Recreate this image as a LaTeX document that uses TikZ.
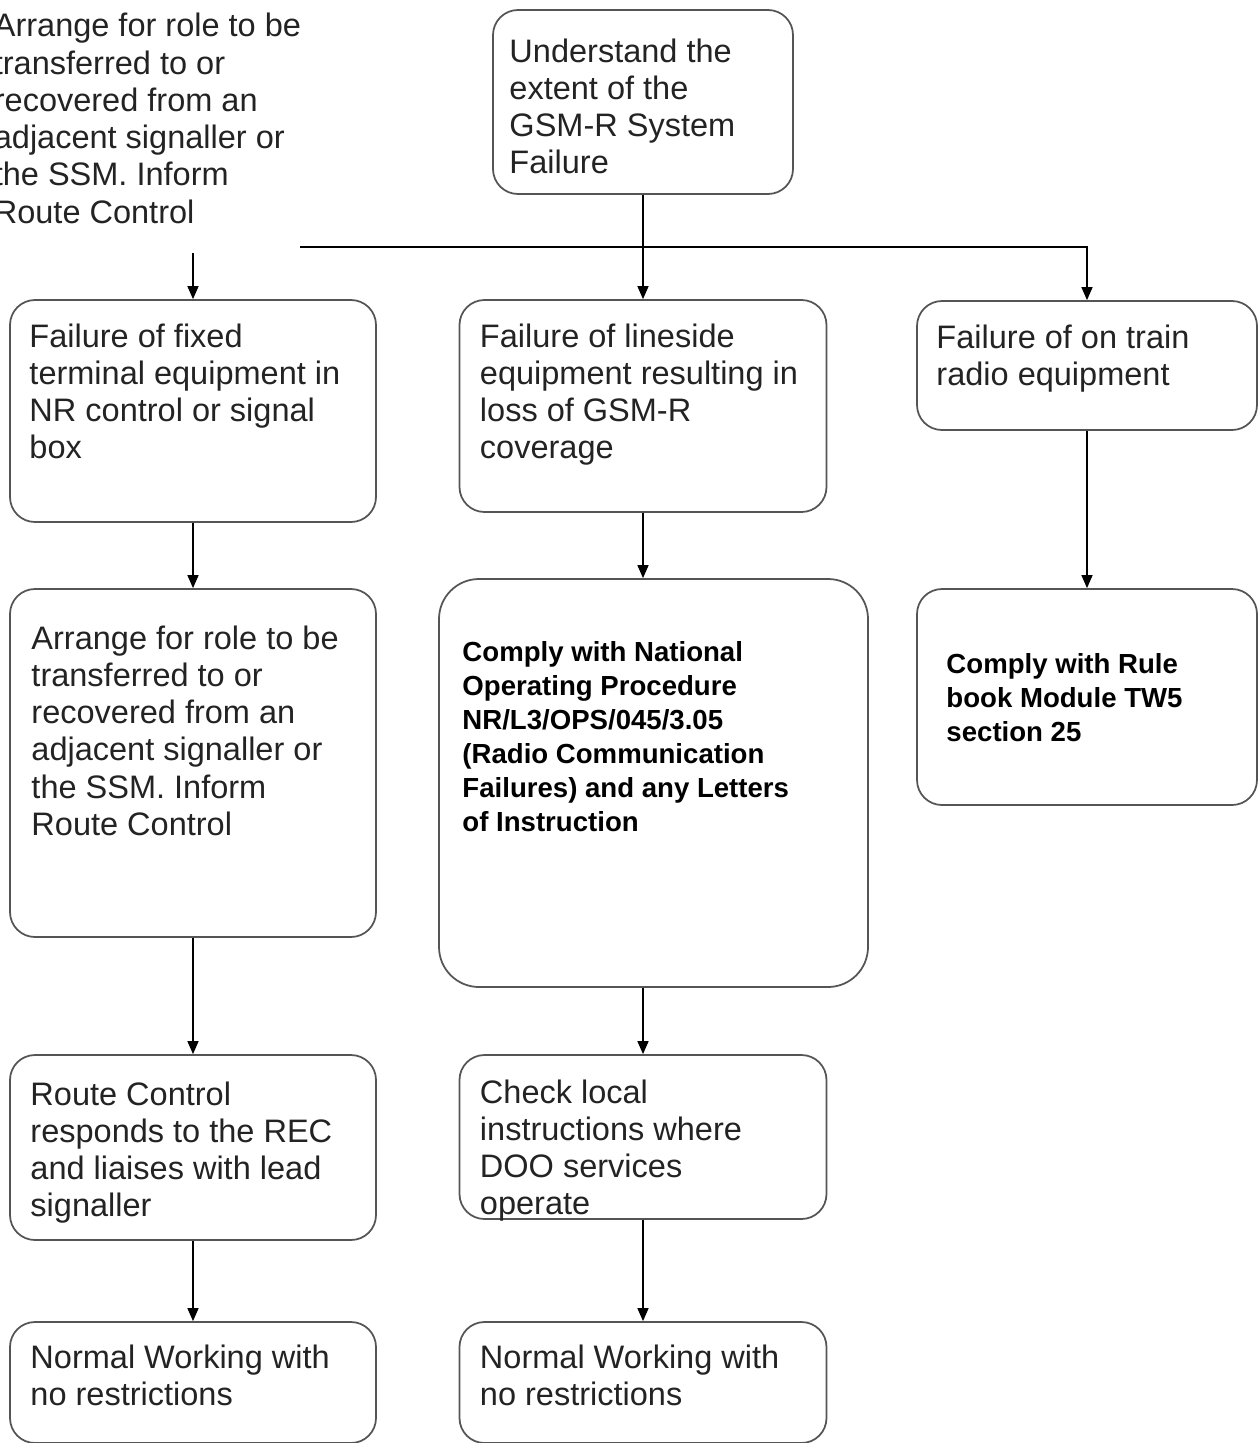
\documentclass[tikz,border=0pt]{standalone}
\usepackage{fontspec}
\setmainfont{Liberation Sans}
\usetikzlibrary{arrows.meta,positioning}
\definecolor{BoxGrey}{RGB}{85,85,85}
\definecolor{InkGrey}{RGB}{35,35,35}
\tikzset{
  stepbox/.style={draw=BoxGrey, rounded corners=0.5cm, line width=1pt},
  bigbox/.style={stepbox, rounded corners=0.8cm},
  steptext/.style={inner sep=0pt, align=left, text=InkGrey,
    font=\fontsize{18.5}{21.2}\selectfont},
  ruletext/.style={inner sep=0pt, align=left, text=black,
    font=\bfseries\fontsize{15.7}{19.35}\selectfont},
  arrow/.style={-{Triangle[length=0.26cm,width=0.22cm]}, line width=0.8pt, black}
}

\begin{document}
\begin{tikzpicture}
  \useasboundingbox (0,0) rectangle (25.16,-28.86);
  \clip (0,0) rectangle (25.16,-28.86);

  % boxes
  \node[stepbox, minimum width=6.0cm, minimum height=3.68cm] (understand) at (12.86,-2.04) {};
  \node[stepbox, minimum width=7.32cm, minimum height=4.44cm] (fixed) at (3.86,-8.22) {};
  \node[stepbox, minimum width=7.34cm, minimum height=4.24cm] (lineside) at (12.86,-8.12) {};
  \node[stepbox, minimum width=6.8cm, minimum height=2.58cm] (ontrain) at (21.74,-7.31) {};
  \node[stepbox, minimum width=7.32cm, minimum height=6.96cm] (arrange) at (3.86,-15.26) {};
  \node[bigbox, minimum width=8.58cm, minimum height=8.16cm] (comply) at (13.07,-15.66) {};
  \node[stepbox, minimum width=6.8cm, minimum height=4.32cm] (rule) at (21.74,-13.94) {};
  \node[stepbox, minimum width=7.32cm, minimum height=3.7cm] (route) at (3.86,-22.95) {};
  \node[stepbox, minimum width=7.34cm, minimum height=3.28cm] (check) at (12.86,-22.74) {};
  \node[stepbox, minimum width=7.32cm, minimum height=2.42cm] (normalA) at (3.86,-27.65) {};
  \node[stepbox, minimum width=7.34cm, minimum height=2.42cm] (normalB) at (12.86,-27.65) {};

  % texts
  \node[steptext, anchor=north west] (topnote) at (-0.13,-0.26)
    {Arrange for role to be\\transferred to or\\recovered from an\\adjacent signaller or\\the SSM. Inform\\Route Control};
  \node[steptext, below right=0.58cm and 0.34cm of understand.north west] (understandtxt)
    {Understand the\\extent of the\\GSM-R System\\Failure};
  \node[steptext, below right=0.48cm and 0.4cm of fixed.north west] (fixedtxt)
    {Failure of fixed\\terminal equipment in\\NR control or signal\\box};
  \node[steptext, below right=0.48cm and 0.42cm of lineside.north west] (linesidetxt)
    {Failure of lineside\\equipment resulting in\\loss of GSM-R\\coverage};
  \node[steptext, below right=0.48cm and 0.4cm of ontrain.north west] (ontraintxt)
    {Failure of on train\\radio equipment};
  \node[steptext, below right=0.74cm and 0.44cm of arrange.north west] (arrangetxt)
    {Arrange for role to be\\transferred to or\\recovered from an\\adjacent signaller or\\the SSM. Inform\\Route Control};
  \node[ruletext, below right=1.26cm and 0.48cm of comply.north west] (complytxt)
    {Comply with National\\Operating Procedure\\NR/L3/OPS/045/3.05\\(Radio Communication\\Failures) and any Letters\\of Instruction};
  \node[ruletext, below right=1.3cm and 0.6cm of rule.north west] (ruletxt)
    {Comply with Rule\\book Module TW5\\section 25};
  \node[steptext, below right=0.54cm and 0.42cm of route.north west] (routetxt)
    {Route Control\\responds to the REC\\and liaises with lead\\signaller};
  \node[steptext, below right=0.5cm and 0.42cm of check.north west] (checktxt)
    {Check local\\instructions where\\DOO services\\operate};
  \node[steptext, below right=0.46cm and 0.42cm of normalA.north west] (normalAtxt)
    {Normal Working with\\no restrictions};
  \node[steptext, below right=0.46cm and 0.42cm of normalB.north west] (normalBtxt)
    {Normal Working with\\no restrictions};

  % connectors
  \coordinate (branch) at (6.0,-4.94);
  \coordinate (feed) at (3.86,-5.06);
  \draw[arrow] (understand.south) -- (lineside.north);
  \draw[arrow] (branch) -| (ontrain.north);
  \draw[arrow] (feed) -- (fixed.north);
  \draw[arrow] (fixed.south) -- (arrange.north);
  \draw[arrow] (lineside.south) -- (lineside.south |- comply.north);
  \draw[arrow] (ontrain.south) -- (rule.north);
  \draw[arrow] (arrange.south) -- (route.north);
  \draw[arrow] (check.north |- comply.south) -- (check.north);
  \draw[arrow] (route.south) -- (normalA.north);
  \draw[arrow] (check.south) -- (normalB.north);
\end{tikzpicture}
\end{document}
